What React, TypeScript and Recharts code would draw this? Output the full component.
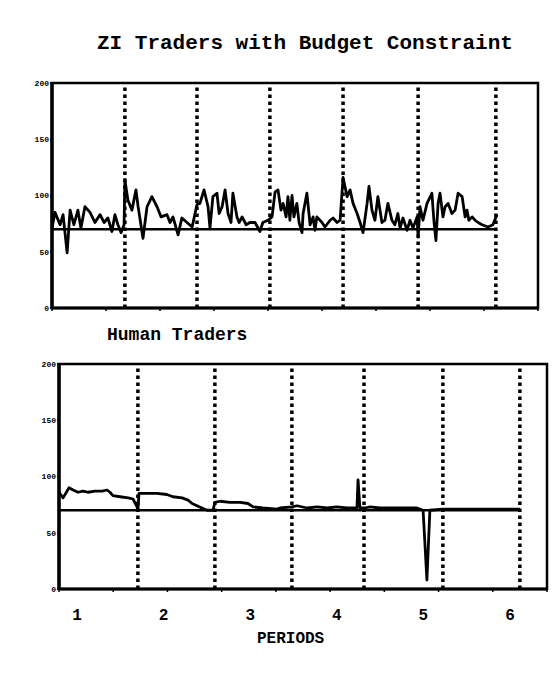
import { LineChart, Line, XAxis, YAxis, ReferenceLine, ReferenceArea } from 'recharts';

const MONO = '"Liberation Mono", "DejaVu Sans Mono", monospace';

// ZI traders with budget constraint: transaction sequence and price
const ziTrade = [
  0, 1.1, 3, 4.1, 5.6, 6.7, 8.1, 9.6, 10.7, 12.2, 14.1, 15.9, 17.8, 19.3, 20.7, 22.2, 23.3, 24.4, 25.6, 26.7,
  27, 28.1, 29.6, 31.1, 31.9, 33.7, 35.2, 37, 38.9, 40.4, 42.6, 43.7, 44.8, 46.7, 48.1, 50, 51.9, 53.7,
  54.8, 56.3, 57.8, 58.5, 59.6, 61.1, 61.9, 63, 64.1, 65.2, 66.3, 67, 68.5, 69.3, 70.4, 71.9, 73.3, 75.2, 77, 78.1, 80,
  81.5, 82.6, 83.7, 84.8, 85.6, 86.7, 87.4, 88.1, 88.9, 89.6, 90.7, 91.5, 92.6, 93, 94.4, 95.6, 96.7, 97.4, 98.1, 100,
  101.1, 103, 104.1, 105.6, 106.7,
  107.8, 109.3, 110.4, 111.5, 113, 114.1, 115.2, 116.7, 117.4, 118.5, 119.6, 120.7, 122.2, 123.3, 124.4, 125.9, 127,
  128.1, 128.9, 130, 131.5, 132.6, 133.7, 135.2,
  135.6, 136.3, 137.4, 138.9, 140.7, 141.5, 142.2, 143, 143.7, 144.8, 145.6, 146.7, 148.1, 149.3, 150.4, 151.9, 153,
  153.7, 154.4, 155.6, 156.7, 157.8, 159.3, 161.5, 163.3, 164.8,
];
const ziPrice = [
  71, 85, 74, 83, 49, 87, 74, 87, 71, 90, 85, 76, 83, 76, 80, 68, 83, 74, 67, 74,
  114, 96, 87, 105, 90, 62, 90, 99, 90, 81, 83, 76, 81, 65, 80, 76, 72, 92,
  93, 105, 90, 71, 99, 102, 84, 90, 105, 84, 76, 102, 81, 76, 81, 74, 76, 76, 68, 76, 78,
  81, 103, 105, 87, 93, 81, 99, 78, 100, 81, 93, 76, 67, 84, 102, 74, 81, 69, 81, 76,
  72, 78, 80, 76, 78,
  116, 99, 105, 93, 84, 76, 67, 93, 108, 87, 78, 99, 76, 78, 93, 78, 74,
  84, 71, 80, 69, 78, 71, 81,
  63, 90, 78, 93, 102, 76, 60, 93, 102, 81, 90, 93, 84, 87, 102, 99, 81,
  87, 78, 81, 78, 76, 74, 72, 74, 83,
];
const ziPeriodEnds = [27, 53.7, 80.7, 107.8, 135.6, 164.4];

// Human traders: transaction sequence and price
const humanTrade = [
  0, 1.5, 3.7, 5.2, 7, 8.9, 10.7, 13.3, 15.9, 17.7, 18.8, 19.9, 22.5, 25.5, 27.3, 28.8, 29.1,
  29.5, 32.5, 36.1, 39.8, 42, 45.4, 47.6, 49.1, 50.9, 52.7, 54.6, 56.8,
  57.5, 59.4, 63.1, 66.8, 69.7, 71.6, 75.2, 80.4,
  81.5, 85.9, 87.8, 91.5, 95.2, 98.9, 102.5, 106.2, 109.9, 110.3, 111, 112.9,
  114.7, 118.4, 123.2, 126.9, 132, 134.3, 135.7, 136.8, 141.6,
  151.6, 162.7, 170,
];
const humanPrice = [
  86, 81, 90, 88, 86, 87, 86, 87, 87, 88, 86, 83, 82, 81, 80, 73, 70,
  85, 85, 85, 84, 82, 81, 79, 76, 74, 72, 70, 70,
  77, 78, 77, 77, 76, 73, 72, 71,
  72, 73, 74, 72, 73, 72, 73, 72, 72, 97, 72, 72,
  73, 72, 72, 72, 72, 70, 8, 70, 71,
  71, 71, 71,
];
const humanPeriodEnds = [29.1, 57.5, 85.9, 112.5, 141.6, 170];

const equilibrium = 70;
const xTicks = [0, 20, 40, 60, 80, 100, 120, 140, 160, 180];
const yTicks = [0, 50, 100, 150, 200];
const periodLabels = ['1', '2', '3', '4', '5', '6'];

interface PriceChartProps {
  trades: number[];
  prices: number[];
  periodEnds: number[];
  height: number;
  margin: { top: number; right: number; bottom: number; left: number };
}

function PriceChart({ trades, prices, periodEnds, height, margin }: PriceChartProps) {
  const data = trades.map((t, i) => ({ t, p: prices[i] }));
  const lastEnd = periodEnds[periodEnds.length - 1];
  return (
    <LineChart width={555} height={height} data={data} margin={margin}>
      <XAxis
        dataKey="t"
        type="number"
        domain={[0, 180]}
        ticks={xTicks}
        tickFormatter={() => ''}
        tickSize={3}
        height={10}
        axisLine={{ stroke: '#000', strokeWidth: 3 }}
        tickLine={{ stroke: '#000', strokeWidth: 1.5 }}
      />
      <YAxis
        type="number"
        domain={[0, 200]}
        ticks={yTicks}
        width={20}
        tickSize={2}
        tickMargin={1}
        axisLine={{ stroke: '#000', strokeWidth: 3.5 }}
        tickLine={{ stroke: '#000', strokeWidth: 2 }}
        tick={{ fontSize: 8, fontWeight: 700, fill: '#000', fontFamily: MONO }}
      />
      {/* plot frame */}
      <ReferenceArea x1={0} x2={180} y1={0} y2={200} fill="none" stroke="#000" strokeWidth={2.5} ifOverflow="visible" />
      {periodEnds.map((x) => (
        <ReferenceLine key={x} x={x} stroke="#000" strokeWidth={3.5} strokeDasharray="3.5 3.5" />
      ))}
      <ReferenceLine
        segment={[{ x: 0, y: equilibrium }, { x: lastEnd, y: equilibrium }]}
        stroke="#000"
        strokeWidth={2.5}
      />
      <Line
        dataKey="p"
        type="linear"
        stroke="#000"
        strokeWidth={2.8}
        strokeLinejoin="round"
        dot={false}
        isAnimationActive={false}
      />
    </LineChart>
  );
}

export default function App() {
  const text = { position: 'absolute' as const, fontFamily: MONO, fontWeight: 700, color: '#000', lineHeight: 1, whiteSpace: 'nowrap' as const };
  return (
    <div style={{ position: 'absolute', left: 0, top: 0, width: 555, height: 673, background: '#fff', overflow: 'hidden' }}>
      <div style={{ ...text, left: 97, top: 33, fontSize: 21 }}>ZI Traders with Budget Constraint</div>
      <div style={{ position: 'absolute', left: 0, top: 0 }}>
        <PriceChart
          trades={ziTrade}
          prices={ziPrice}
          periodEnds={ziPeriodEnds}
          height={320}
          margin={{ top: 83, right: 17, bottom: 2, left: 32 }}
        />
      </div>
      <div style={{ ...text, left: 107, top: 326, fontSize: 18 }}>Human Traders</div>
      <div style={{ position: 'absolute', left: 0, top: 340 }}>
        <PriceChart
          trades={humanTrade}
          prices={humanPrice}
          periodEnds={humanPeriodEnds}
          height={270}
          margin={{ top: 24, right: 8, bottom: 11, left: 39 }}
        />
      </div>
      {periodLabels.map((p, i) => (
        <div key={p} style={{ ...text, left: 77 + i * 86.6 - 10, width: 20, textAlign: 'center', top: 608, fontSize: 16 }}>
          {p}
        </div>
      ))}
      <div style={{ ...text, left: 257, top: 631, fontSize: 16 }}>PERIODS</div>
    </div>
  );
}
